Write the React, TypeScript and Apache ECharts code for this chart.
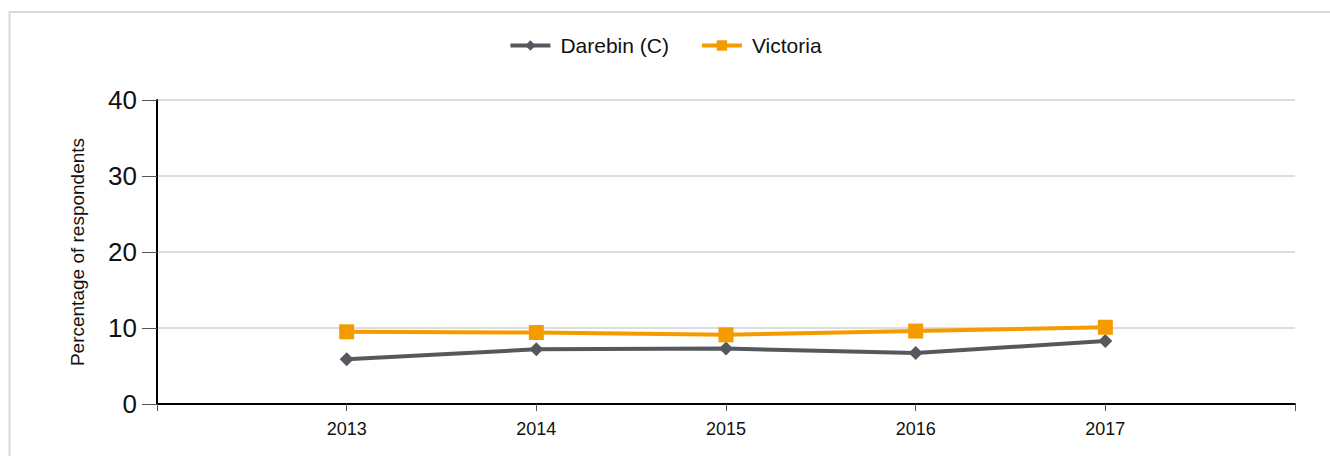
import React, { useEffect, useRef } from "react";
import * as echarts from "echarts";

const years = [2013, 2014, 2015, 2016, 2017];
const darebin = [5.9, 7.2, 7.3, 6.7, 8.3];
const victoria = [9.5, 9.4, 9.1, 9.6, 10.1];
const seriesNames = ["Darebin (C)", "Victoria"];
const yTicks = { min: 0, max: 40, interval: 10 };
const xRange = { min: 2012, max: 2018 };

export default function App() {
  const ref = useRef<HTMLDivElement>(null);
  useEffect(() => {
    if (!ref.current) return;
    const chart = echarts.init(ref.current, null, { renderer: "svg" });
    const font = "Liberation Sans, Arial, sans-serif";
    chart.setOption({
      animation: false,
      backgroundColor: "#ffffff",
      textStyle: { fontFamily: font },
      graphic: [
        {
          type: "rect",
          shape: { x: 9.5, y: 12, width: 1340, height: 470 },
          style: { fill: "none", stroke: "#d9d9d9", lineWidth: 2 },
          silent: true,
        },
      ],
      legend: {
        top: 30,
        left: "center",
        itemWidth: 40,
        itemHeight: 13,
        itemGap: 31,
        lineStyle: { width: 4 },
        textStyle: { fontSize: 21, color: "#111", fontFamily: font, padding: [0, 0, 0, 5] },
        data: seriesNames,
      },
      grid: { left: 157, right: 35, top: 100, bottom: 52, containLabel: false },
      xAxis: {
        type: "value",
        min: xRange.min,
        max: xRange.max,
        interval: 1,
        axisLine: { show: true, lineStyle: { color: "#000", width: 2 } },
        axisTick: { show: true, length: 7, lineStyle: { color: "#555", width: 1 } },
        splitLine: { show: false },
        axisLabel: {
          fontSize: 18,
          color: "#111",
          margin: 16,
          formatter: (v: number) => (v === xRange.min || v === xRange.max ? "" : String(v)),
        },
      },
      yAxis: {
        type: "value",
        min: yTicks.min,
        max: yTicks.max,
        interval: yTicks.interval,
        name: "Percentage of respondents",
        nameLocation: "middle",
        nameGap: 70,
        nameRotate: 90,
        nameTextStyle: { fontSize: 19, color: "#111", fontFamily: font },
        axisLine: { show: true, lineStyle: { color: "#000", width: 2 } },
        axisTick: { show: true, length: 15, lineStyle: { color: "#555", width: 1 } },
        axisLabel: { fontSize: 26, color: "#111", margin: 20 },
        splitLine: { show: true, lineStyle: { color: "#dddddd", width: 2 } },
      },
      series: [
        {
          name: seriesNames[0],
          type: "line",
          data: years.map((y, i) => [y, darebin[i]]),
          symbol: "diamond",
          symbolSize: 14,
          lineStyle: { color: "#55595e", width: 4 },
          itemStyle: { color: "#55595e" },
          z: 2,
        },
        {
          name: seriesNames[1],
          type: "line",
          data: years.map((y, i) => [y, victoria[i]]),
          symbol: "rect",
          symbolSize: 15,
          lineStyle: { color: "#f59b00", width: 4 },
          itemStyle: { color: "#f59b00" },
          z: 3,
        },
      ],
    });
    return () => chart.dispose();
  }, []);
  return (
    <div
      ref={ref}
      style={{ position: "absolute", left: 0, top: 0, width: 1330, height: 456 }}
    />
  );
}
